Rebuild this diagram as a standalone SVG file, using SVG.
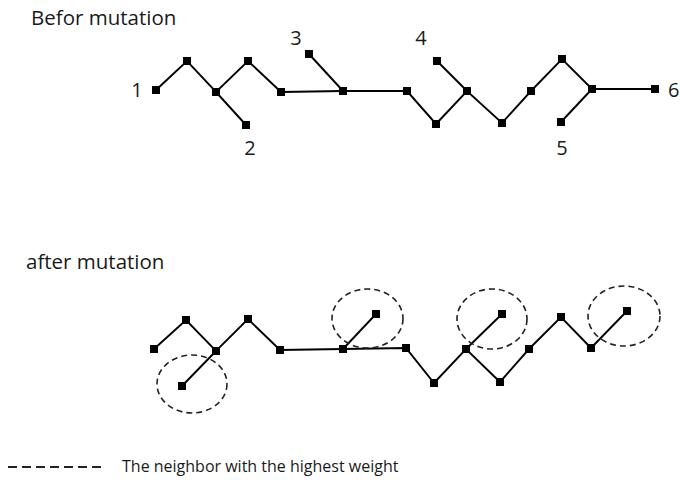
<svg xmlns="http://www.w3.org/2000/svg" width="680" height="480" viewBox="0 0 680 480">
<style>
.t{font-family:"Open Sans","Liberation Sans",sans-serif;fill:#1a1a1a}
.h{font-size:20.5px}
.n{font-size:20px;text-anchor:middle}
.l{font-size:16px}
.e{stroke:#000;stroke-width:1.9;fill:none}
.d{stroke:#222;stroke-width:1.6;fill:none;stroke-dasharray:6 4}
</style>
<defs><rect id="sq" x="-4" y="-4" width="8" height="8" fill="#000"/></defs>
<rect width="680" height="480" fill="#fff"/>
<text class="t h" x="31" y="25">Befor mutation</text>
<text class="t h" x="26" y="269">after mutation</text>
<g id="connectors">
<polyline class="e" points="156,90 187,61 216,92 248,61 281,92 343,91 407,91 436,124 467,91 502,123 531,91 562,59 592,89 655,89"/>
<line class="e" x1="216" y1="92" x2="246" y2="125"/>
<line class="e" x1="343" y1="91" x2="309" y2="54"/>
<line class="e" x1="467" y1="91" x2="437" y2="61"/>
<line class="e" x1="592" y1="89" x2="561" y2="122"/>
<polyline class="e" points="154,349 186,320 216,351 248,319 280,350 343,349 406,348 434,383 466,349 500,382 529,349 561,317 591,348"/>
<line class="e" x1="216" y1="351" x2="182" y2="386"/>
<line class="e" x1="343" y1="349" x2="376" y2="314"/>
<line class="e" x1="466" y1="349" x2="502" y2="314"/>
<line class="e" x1="591" y1="348" x2="627" y2="311"/>
</g>
<g id="top-nodes">
<g id="n1"><use href="#sq" x="156" y="90"/><text class="t n" x="137" y="97">1</text></g>
<g id="a2"><use href="#sq" x="187" y="61"/></g>
<g id="a3"><use href="#sq" x="216" y="92"/></g>
<g id="n2"><use href="#sq" x="246" y="125"/><text class="t n" x="250" y="155">2</text></g>
<g id="a4"><use href="#sq" x="248" y="61"/></g>
<g id="a5"><use href="#sq" x="281" y="92"/></g>
<g id="n3"><use href="#sq" x="309" y="54"/><text class="t n" x="296" y="45">3</text></g>
<g id="a6"><use href="#sq" x="343" y="91"/></g>
<g id="a7"><use href="#sq" x="407" y="91"/></g>
<g id="a8"><use href="#sq" x="436" y="124"/></g>
<g id="n4"><use href="#sq" x="437" y="61"/><text class="t n" x="421" y="45">4</text></g>
<g id="a9"><use href="#sq" x="467" y="91"/></g>
<g id="a10"><use href="#sq" x="502" y="123"/></g>
<g id="a11"><use href="#sq" x="531" y="91"/></g>
<g id="a12"><use href="#sq" x="562" y="59"/></g>
<g id="a13"><use href="#sq" x="592" y="89"/></g>
<g id="n5"><use href="#sq" x="561" y="122"/><text class="t n" x="562" y="155">5</text></g>
<g id="n6"><use href="#sq" x="655" y="89"/><text class="t" font-size="20" x="668" y="97">6</text></g>
</g>
<g id="bottom-nodes">
<g id="b1"><use href="#sq" x="154" y="349"/></g>
<g id="b2"><use href="#sq" x="186" y="320"/></g>
<g id="b3"><use href="#sq" x="216" y="351"/></g>
<g id="b4"><use href="#sq" x="248" y="319"/></g>
<g id="b5"><use href="#sq" x="280" y="350"/></g>
<g id="b6"><use href="#sq" x="343" y="349"/></g>
<g id="b7"><use href="#sq" x="406" y="348"/></g>
<g id="b8"><use href="#sq" x="434" y="383"/></g>
<g id="b9"><use href="#sq" x="466" y="349"/></g>
<g id="b10"><use href="#sq" x="500" y="382"/></g>
<g id="b11"><use href="#sq" x="529" y="349"/></g>
<g id="b12"><use href="#sq" x="561" y="317"/></g>
<g id="b13"><use href="#sq" x="591" y="348"/></g>
<g id="c1"><use href="#sq" x="182" y="386"/><ellipse class="d" cx="192" cy="384" rx="35" ry="29"/></g>
<g id="c2"><use href="#sq" x="376" y="314"/><ellipse class="d" cx="367.5" cy="318.5" rx="35.5" ry="29.5"/></g>
<g id="c3"><use href="#sq" x="502" y="314"/><ellipse class="d" cx="492" cy="319" rx="35" ry="30"/></g>
<g id="c4"><use href="#sq" x="627" y="311"/><ellipse class="d" cx="624" cy="316" rx="36" ry="30"/></g>
</g>
<g id="legend">
<line x1="8" y1="467" x2="101" y2="467" stroke="#222" stroke-width="2.2" stroke-dasharray="9 5"/>
<text class="t l" x="122" y="472">The neighbor with the highest weight</text>
</g>
</svg>
